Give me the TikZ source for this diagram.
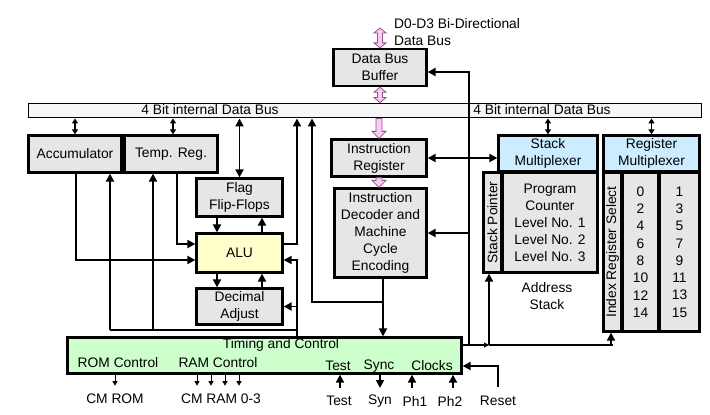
\documentclass[tikz,border=0pt]{standalone}
\usepackage{fontspec}
\setmainfont{Liberation Sans}
\usetikzlibrary{arrows.meta,calc}
\definecolor{boxgray}{RGB}{230,230,230}
\definecolor{busgray}{RGB}{246,246,246}
\definecolor{aluyellow}{RGB}{255,255,204}
\definecolor{tcgreen}{RGB}{204,255,204}
\definecolor{muxblue}{RGB}{204,236,255}
\definecolor{pinkfill}{RGB}{250,205,240}
\definecolor{pinkline}{RGB}{140,85,140}
\newcommand{\pinkone}[2]{\filldraw[fill=pinkfill,draw=pinkline,line width=0.8pt] let \p1=(#1), \p2=(#2) in (\x1-3pt,\y1) -- (\x1-3pt,\y2+7pt) -- (\x1-7pt,\y2+7pt) -- (\x1,\y2) -- (\x1+7pt,\y2+7pt) -- (\x1+3pt,\y2+7pt) -- (\x1+3pt,\y1) -- cycle;}
\newcommand{\pinktwo}[2]{\filldraw[fill=pinkfill,draw=pinkline,line width=0.8pt] let \p1=(#1), \p2=(#2) in (\x1,\y1) -- (\x1+6pt,\y1-5pt) -- (\x1+2.5pt,\y1-5pt) -- (\x1+2.5pt,\y2+5pt) -- (\x1+6pt,\y2+5pt) -- (\x1,\y2) -- (\x1-6pt,\y2+5pt) -- (\x1-2.5pt,\y2+5pt) -- (\x1-2.5pt,\y1-5pt) -- (\x1-6pt,\y1-5pt) -- cycle;}
\tikzset{
  box/.style={draw, line width=2.3pt, fill=boxgray, inner sep=0pt, align=center},
  arr/.style={line width=1.9pt, -{Triangle[length=8pt,width=8pt]}},
  dbl/.style={line width=1.9pt, {Triangle[length=8pt,width=8pt]}-{Triangle[length=8pt,width=8pt]}},
  dblsmall/.style={line width=1.4pt, {Triangle[length=5pt,width=6pt]}-{Triangle[length=5pt,width=6pt]}},
  arrsmall/.style={line width=0.9pt, -{Triangle[length=4.5pt,width=5pt]}},
  plain/.style={line width=1.9pt},
  lbl/.style={inner sep=1pt, align=center}
}
\begin{document}
\begin{tikzpicture}[x=1pt,y=-1pt, font=\fontsize{13.8}{17}\selectfont]
\useasboundingbox[fill=white] (0,0) rectangle (710,415);

% helper coordinates
\coordinate (v1) at (297,0);
\coordinate (v2) at (312,0);
\coordinate (v3) at (469,0);
\coordinate (v4) at (489,0);
\coordinate (h1) at (0,330);
\coordinate (h2) at (0,302);
\coordinate (h3) at (0,345);
\coordinate (h4) at (0,388);
\coordinate (d0) at (380,28);

% bus
\node[draw, line width=1.9pt, fill=busgray, minimum width=673pt, minimum height=14pt, inner sep=0pt] (bus) at (365,110.5) {};
\node[lbl] (bl1) at (210,110) {4 Bit internal Data Bus};
\node[lbl] (bl2) at (542,110) {4 Bit internal Data Bus};

% top
\node[box, minimum width=93pt, minimum height=37pt] (buf) at (380,67.5) {Data Bus\\Buffer};
\node[anchor=west, align=left, inner sep=0pt] (dlbl) at (394,32.5) {D0-D3 Bi-Directional\\Data Bus};

% left blocks
\node[box, minimum width=93pt, minimum height=37pt] (acc) at (75,154) {Accumulator};
\node[box, minimum width=93pt, minimum height=37pt] (tr) at (171,154) {Temp. Reg.};
\node[box, minimum width=86pt, minimum height=38pt] (flag) at (239.5,197.5) {Flag\\Flip-Flops};
\node[box, fill=aluyellow, minimum width=86pt, minimum height=39pt] (alu) at (239.5,253) {ALU};
\node[box, minimum width=86pt, minimum height=36pt] (da) at (239.5,306.5) {Decimal\\Adjust};

% centre blocks
\node[box, minimum width=95pt, minimum height=37pt] (ir) at (379,158) {Instruction\\Register};
\node[box, minimum width=92pt, minimum height=89pt] (dec) at (380.5,233) {Instruction\\Decoder and\\Machine\\Cycle\\Encoding};

% timing and control
\node[box, fill=tcgreen, minimum width=394pt, minimum height=36pt] (tc) at (264.5,355.5) {};
\node[lbl] (tct) at (281,345) {Timing and Control};
\node[lbl] (romc) at (118,363) {ROM Control};
\node[lbl] (ramc) at (218,363) {RAM Control};
\node[lbl] (tst) at (338,366) {Test};
\node[lbl] (syc) at (379,366) {Sync};
\node[lbl] (clk) at (432,366) {Clocks};

% stack
\node[box, fill=muxblue, minimum width=99pt, minimum height=36pt] (sm) at (548,153.5) {Stack\\Multiplexer};
\node[box, minimum width=18pt, minimum height=100pt] (sp) at (492.5,222.5) {};
\node[rotate=90, inner sep=0pt] (spt) at (sp.center) {Stack Pointer};
\node[box, minimum width=95pt, minimum height=100pt] (pc) at (550,222.5) {Program\\Counter\\Level No. 1\\Level No. 2\\Level No. 3};
\node[lbl] (addr) at (547,296) {Address\\Stack};

% registers
\node[box, fill=muxblue, minimum width=96pt, minimum height=36pt] (rm) at (651.5,153.5) {Register\\Multiplexer};
\node[box, minimum width=18pt, minimum height=159pt] (irs) at (612.5,252) {};
\node[rotate=90, inner sep=0pt] (irst) at (irs.center) {Index Register Select};
\node[box, minimum width=36pt, minimum height=159pt, font=\fontsize{13.8}{17.3}\selectfont] (c1) at (640.5,252) {0\\2\\4\\6\\8\\10\\12\\14};
\node[box, minimum width=40pt, minimum height=159pt, font=\fontsize{13.8}{17.3}\selectfont] (c2) at (679.5,252) {1\\3\\5\\7\\9\\11\\13\\15};

% bottom labels
\node[lbl] (cmrom) at (115,399) {CM ROM};
\node[lbl] (cmram) at (221,399) {CM RAM 0-3};
\node[lbl] (btest) at (339,401) {Test};
\node[lbl] (bsyn) at (380,401) {Syn};
\node[lbl] (bph1) at (415,401) {Ph1};
\node[lbl] (bph2) at (450,401) {Ph2};
\node[lbl] (breset) at (498,401) {Reset};

% pink data arrows
\pinktwo{d0}{buf.north}
\pinktwo{buf.south}{bus.north -| buf.south}
\pinkone{bus.south -| ir.north}{ir.north}
\pinkone{ir.south}{ir.south |- dec.north}

% bus connections
\draw[dblsmall] (bus.south -| acc.north) -- (acc.north);
\draw[dblsmall] ($(bus.south -| tr.north)+(2,0)$) -- ($(tr.north)+(2,0)$);
\draw[dbl] (bus.south -| flag.north) -- (flag.north);
\draw[dblsmall] (bus.south -| sm.north) -- (sm.north);
\draw[dblsmall] (bus.south -| rm.north) -- (rm.north);

% accumulator / temp to ALU
\draw[arr] ($(acc.south)+(1,0)$) |- ($(alu.west)+(0,7)$);
\draw[arr] ($(tr.south)+(6,0)$) |- ($(alu.west)+(0,-9)$);
% flag / ALU / DA
\draw[arr] ($(flag.south)+(-22.5,0)$) -- ($(alu.north)+(-22.5,0)$);
\draw[arr] ($(alu.north)+(22.5,0)$) -- ($(flag.south)+(22.5,0)$);
\draw[arr] ($(alu.south)+(-22.5,0)$) -- ($(da.north)+(-22.5,0)$);
\draw[arr] ($(da.north)+(22.5,0)$) -- ($(alu.south)+(22.5,0)$);
% ALU out to bus
\draw[arr] ($(alu.east)+(0,-9)$) -| (bus.south -| v1);
% timing to ALU, DA, acc, temp
\draw[arr] (tc.north -| v1) |- ($(alu.east)+(0,7)$);
\draw[arr] (v1 |- da.east) -- (da.east);
\coordinate (accin) at ($(acc.south)+(35,0)$);
\coordinate (trin) at ($(tr.south)+(-18,0)$);
\draw[plain] (v1 |- h1) -- (accin |- h1);
\draw[arr] (accin |- h1) -- (accin);
\draw[arr] (trin |- h1) -- (trin);
% decoder to timing and bus
\coordinate (ds) at ($(dec.south)+(2.5,0)$);
\draw[arr] (ds) -- (ds |- tc.north);
\draw[arr] (ds |- h2) -| (bus.south -| v2);
% IR <-> stack multiplexer
\draw[dbl] (ir.east) -- (ir.east -| sm.west);
% timing right side
\draw[line width=1.1pt, -{Triangle[length=5pt,width=5pt]}] (tc.east |- h3) -- (v4 |- h3);
\draw[line width=1.1pt] (v4 |- h3) -- (irs.south |- h3);
\draw[arr] (v4 |- h3) -- (v4 |- sp.south);
\draw[arr] ($(irs.south |- h3)+(-1.5,0)$) -- ($(irs.south)+(-1.5,0)$);
\draw[arr] (v3 |- h3) |- ($(buf.east)+(0,4.5)$);
\draw[arr] (v3 |- dec.east) -- (dec.east);

% bottom signals
\draw[arrsmall] (tc.south -| cmrom) -- ++(0,11);
\foreach \dx in {-67.5,-53.5,-39.5,-25.5}
  \draw[arrsmall] ($(tc.south)+(\dx,0)$) -- ++(0,11);
\draw[arr] ($(btest |- h4)+(1,0)$) -- ($(tc.south -| btest)+(1,0)$);
\draw[arr] (tc.south -| bsyn) -- (bsyn |- h4);
\draw[arr] ($(bph1 |- h4)+(-3,0)$) -- ($(tc.south -| bph1)+(-3,0)$);
\draw[arr] ($(bph2 |- h4)+(3,0)$) -- ($(tc.south -| bph2)+(3,0)$);
\draw[arr] ($(breset |- h4)+(0,-1)$) |- ($(tc.east)+(0,10.5)$);
\end{tikzpicture}
\end{document}
